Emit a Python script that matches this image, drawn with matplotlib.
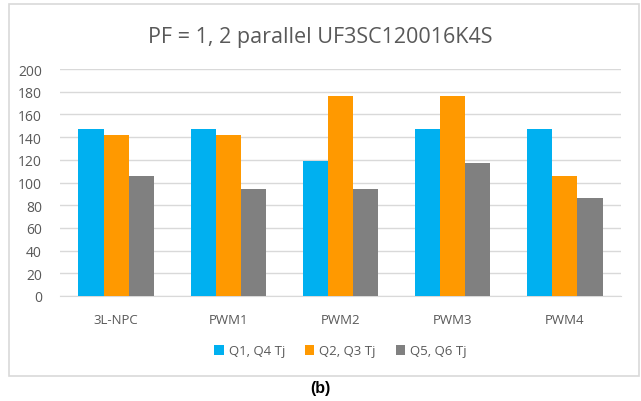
import numpy as np
import matplotlib.pyplot as plt
from matplotlib.patches import Rectangle

categories = ['3L-NPC', 'PWM1', 'PWM2', 'PWM3', 'PWM4']
q1_q4 = [147, 147, 119, 147, 147]
q2_q3 = [142, 142, 176, 176, 106]
q5_q6 = [106, 94, 94, 117, 86]
series_names = ['Q1, Q4 Tj', 'Q2, Q3 Tj', 'Q5, Q6 Tj']
colors = ['#00B0F0', '#FF9900', '#808080']

plt.rcParams['font.family'] = ['Open Sans', 'DejaVu Sans']

W, H = 641, 402
fig = plt.figure(figsize=(W / 100, H / 100), dpi=100)

# outer chart frame
fig.patches.append(Rectangle((9 / W, 1 - 377 / H), 630 / W, 372 / H,
                             transform=fig.transFigure, fill=False,
                             edgecolor='#D9D9D9', linewidth=1.2))

ax = fig.add_axes([60 / W, 1 - 297 / H, 561 / W, 227 / H])

x = np.arange(len(categories))
w = 0.224
for i, vals in enumerate([q1_q4, q2_q3, q5_q6]):
    ax.bar(x + (i - 1) * w, vals, w, color=colors[i], label=series_names[i], zorder=3)

ax.set_xlim(-0.5, len(categories) - 0.5)
ax.set_ylim(0, 200)
ax.set_yticks(range(0, 201, 20))
ax.set_xticks(x)
ax.set_xticklabels(categories)
ax.grid(axis='y', color='#D9D9D9', linewidth=1, zorder=0)
for s in ['top', 'right', 'left']:
    ax.spines[s].set_visible(False)
ax.spines['bottom'].set_color('#D9D9D9')
ax.tick_params(axis='both', length=0, colors='#595959', labelsize=9.5)
ax.tick_params(axis='y', labelsize=10, pad=13)
ax.tick_params(axis='x', pad=12)

fig.text(0.5, 1 - 38 / H, 'PF = 1, 2 parallel UF3SC120016K4S', ha='center', va='center',
         fontsize=15.5, color='#595959')

ax.legend(loc='center', bbox_to_anchor=(0.5, (352 - 297) / -227), ncol=3, frameon=False,
          fontsize=9.5, labelcolor='#595959', handlelength=0.7, handleheight=0.7,
          handletextpad=0.4, columnspacing=1.5)

fig.text(0.5, 1 - 389 / H, '(b)', ha='center', va='center', fontsize=11.5,
         fontweight='bold', family='Liberation Sans')

fig.savefig('out.png', dpi=100)
